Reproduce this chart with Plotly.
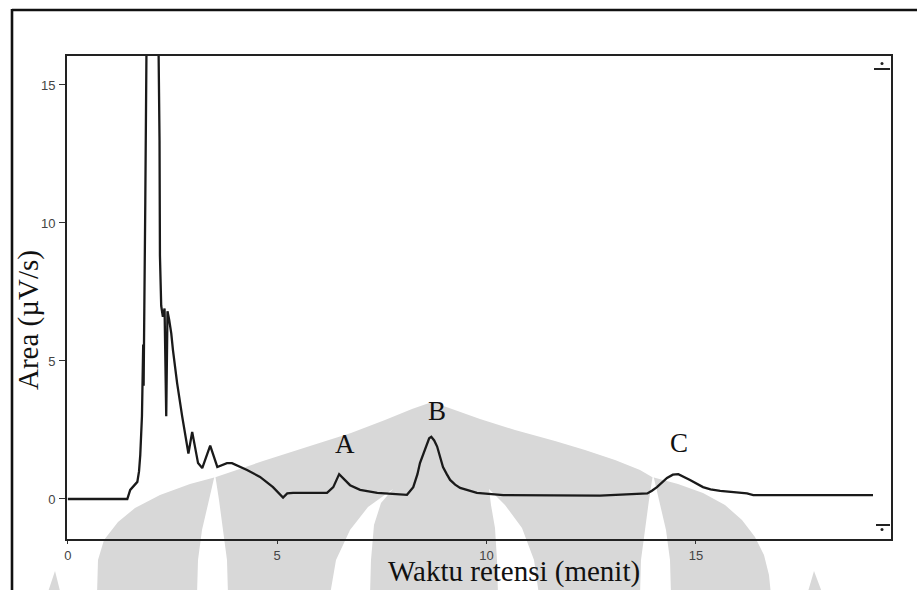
import plotly.graph_objects as go

# Retention time (minutes) and detector response (µV/s) along the chromatogram
waktu = [0.00, 1.42, 1.49, 1.60, 1.66, 1.70, 1.73, 1.77, 1.79, 1.80, 1.81, 1.815,
         1.82, 1.83, 1.835, 1.85, 2.00, 2.19, 2.20, 2.23, 2.27, 2.31, 2.35, 2.38,
         2.42, 2.47, 2.51, 2.61, 2.73, 2.85, 2.88, 2.97, 3.11, 3.21, 3.40, 3.57,
         3.80, 3.92, 4.28, 4.59, 4.90, 5.14, 5.24, 5.38, 6.19, 6.34, 6.48, 6.74,
         6.98, 7.39, 8.10, 8.25, 8.35, 8.41, 8.50, 8.58, 8.63, 8.68, 8.75, 8.82,
         8.96, 9.05, 9.13, 9.25, 9.37, 9.77, 10.40, 12.71, 13.84, 13.95, 14.07,
         14.31, 14.45, 14.58, 14.70, 14.86, 15.17, 15.35, 15.58, 16.22, 16.37, 19.23]
area = [0.00, 0.00, 0.33, 0.50, 0.62, 1.00, 1.60, 3.00, 4.40, 5.60, 4.10, 5.40,
        4.30, 6.20, 10.70, 10.80, 40.0, 13.00, 8.80, 7.00, 6.60, 6.90, 3.00, 6.80,
        6.50, 6.00, 5.40, 4.20, 3.00, 1.80, 1.65, 2.43, 1.30, 1.12, 1.93, 1.16,
        1.30, 1.30, 1.05, 0.80, 0.43, 0.05, 0.20, 0.22, 0.22, 0.43, 0.90, 0.50,
        0.33, 0.22, 0.15, 0.43, 0.90, 1.30, 1.70, 2.03, 2.20, 2.25, 2.12, 1.90,
        1.16, 0.90, 0.69, 0.52, 0.40, 0.22, 0.14, 0.12, 0.20, 0.30, 0.43,
        0.76, 0.88, 0.90, 0.82, 0.69, 0.43, 0.35, 0.29, 0.20, 0.14, 0.14]

# Peak labels
peak_names = ["A", "B", "C"]
peak_label_x = [6.62, 8.82, 14.60]
peak_label_y = [1.99, 3.19, 2.03]

x_ticks = [0, 5, 10, 15]
y_ticks = [0, 5, 10, 15]

W_FIG, H_FIG = 917, 590
L, R, T, B = 67, 26, 56, 51
PW, PH = W_FIG - L - R, H_FIG - T - B


def px(x):
    return (x - L) / PW


def py(y):
    return (H_FIG - B - y) / PH


def poly(points):
    return "M " + " L ".join(f"{px(a):.5f},{py(b):.5f}" for a, b in points) + " Z"


GREY = "#d8d8d8"

# background emblem: pointed dome split by four white cut-outs
dome = [(97, 595), (98, 560), (104, 540), (118, 522), (135, 508), (160, 495),
        (190, 484), (216, 477), (263, 461), (310, 446), (351, 433), (385, 420),
        (412, 409), (432, 402), (452, 409), (480, 419), (515, 430), (555, 441),
        (585, 450), (615, 460), (640, 470), (652, 477), (678, 484), (703, 493),
        (725, 505), (742, 520), (755, 537), (764, 555), (769, 575), (771, 595)]
cut1 = [(197, 595), (198, 560), (202, 530), (209, 500), (215, 474),
        (219, 500), (223, 530), (227, 560), (228, 595)]
cut2 = [(330, 595), (336, 560), (350, 530), (368, 507), (393, 489),
        (381, 503), (374, 525), (371, 560), (370, 595)]
cut3 = [(498, 595), (497, 560), (495, 528), (491, 505), (489, 489),
        (505, 505), (522, 528), (534, 560), (539, 595)]
cut4 = [(640, 595), (641, 560), (645, 530), (649, 500), (653, 474),
        (659, 500), (666, 530), (670, 560), (671, 595)]
tip_l = [(47, 595), (55, 571), (61, 595)]
tip_r = [(807, 595), (814, 571), (823, 595)]

shapes = []
for pts, col in [(dome, GREY), (cut1, "white"), (cut2, "white"), (cut3, "white"),
                 (cut4, "white"), (tip_l, GREY), (tip_r, GREY)]:
    shapes.append(dict(type="path", path=poly(pts), xref="paper", yref="paper",
                       fillcolor=col, line=dict(width=0), layer="below"))

# outer frame (left and top edges)
shapes.append(dict(type="line", xref="paper", yref="paper", x0=px(12), y0=py(10),
                   x1=px(917), y1=py(10), line=dict(color="#111", width=2.6)))
shapes.append(dict(type="line", xref="paper", yref="paper", x0=px(12), y0=py(9),
                   x1=px(12), y1=py(592), line=dict(color="#111", width=2.6)))
# scroll markers in the right corners of the plot box
shapes.append(dict(type="line", xref="paper", yref="paper", x0=px(874), y0=py(69),
                   x1=px(890), y1=py(69), line=dict(color="#222", width=2)))
shapes.append(dict(type="circle", xref="paper", yref="paper", x0=px(880.5), y0=py(62),
                   x1=px(883.5), y1=py(65), fillcolor="#222", line=dict(width=0)))
shapes.append(dict(type="line", xref="paper", yref="paper", x0=px(876), y0=py(525),
                   x1=px(890), y1=py(525), line=dict(color="#222", width=2)))
shapes.append(dict(type="circle", xref="paper", yref="paper", x0=px(880.5), y0=py(528),
                   x1=px(883.5), y1=py(531), fillcolor="#222", line=dict(width=0)))

fig = go.Figure()
fig.add_trace(go.Scatter(x=waktu, y=area, mode="lines",
                         line=dict(color="#1a1a1a", width=2.3), hoverinfo="x+y",
                         showlegend=False))

SERIF = "Liberation Serif, Times New Roman, serif"
annotations = []
for name, lx, ly in zip(peak_names, peak_label_x, peak_label_y):
    annotations.append(dict(x=lx, y=ly, xref="x", yref="y", text=name, showarrow=False,
                            font=dict(family=SERIF, size=27, color="#111"),
                            xanchor="center", yanchor="middle"))
annotations.append(dict(x=px(514), y=py(571), xref="paper", yref="paper",
                        text="Waktu retensi (menit)", showarrow=False,
                        font=dict(family=SERIF, size=29, color="#111"),
                        xanchor="center", yanchor="middle", borderpad=0))
annotations.append(dict(x=px(29), y=py(320), xref="paper", yref="paper",
                        text="Area (µV/s)", showarrow=False, textangle=-90,
                        font=dict(family=SERIF, size=29, color="#111"),
                        xanchor="center", yanchor="middle"))

tick_font = dict(family="Liberation Sans, Arial, sans-serif", size=13, color="#444")
fig.update_layout(
    width=W_FIG, height=H_FIG,
    margin=dict(l=L, r=R, t=T, b=B),
    paper_bgcolor="white", plot_bgcolor="rgba(0,0,0,0)",
    shapes=shapes, annotations=annotations,
    xaxis=dict(range=[-0.02, 19.66], tickvals=x_ticks, ticks="outside", ticklen=3,
               tickwidth=1.3, tickcolor="#333", showgrid=False, zeroline=False,
               showline=True, mirror=True, linecolor="#222", linewidth=2,
               tickfont=tick_font, ticklabelstandoff=0),
    yaxis=dict(range=[-1.45, 16.05], tickvals=y_ticks, ticks="outside", ticklen=6,
               tickwidth=1.3, tickcolor="#333", showgrid=False, zeroline=False,
               showline=True, mirror=True, linecolor="#222", linewidth=1.8,
               tickfont=tick_font, ticklabelstandoff=1),
)

fig.write_html("out.html")
